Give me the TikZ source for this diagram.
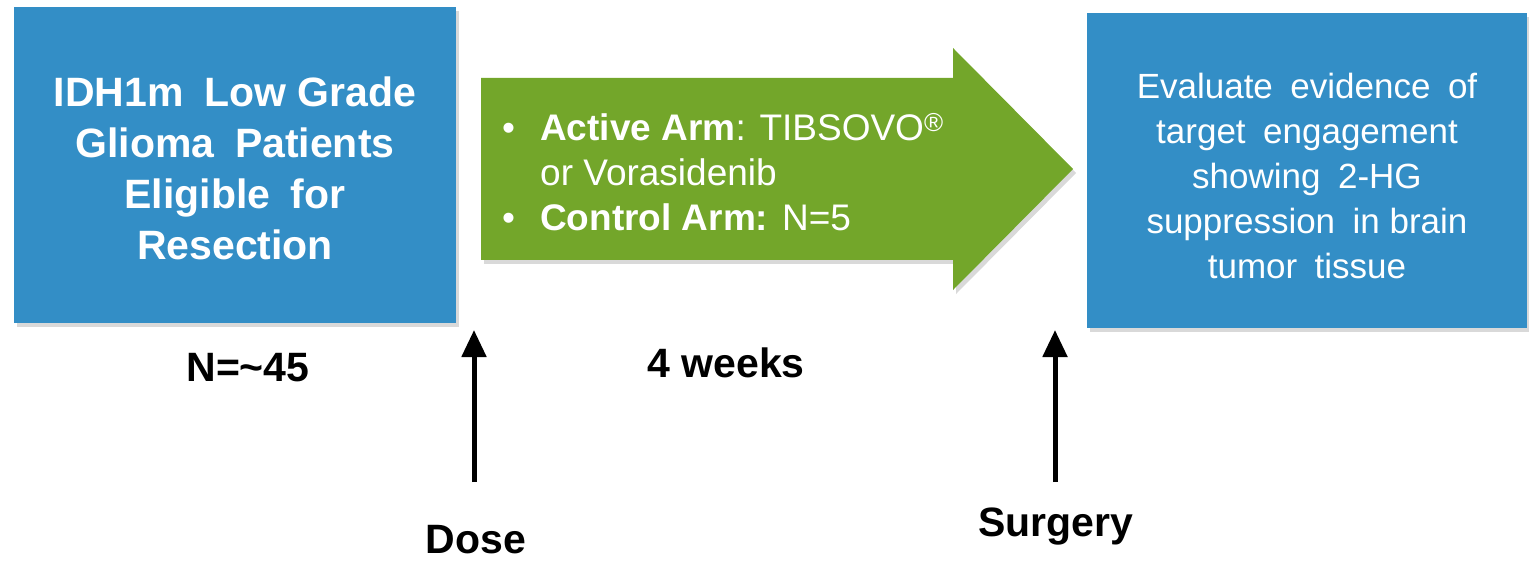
\documentclass[tikz,border=0pt]{standalone}
\usepackage{fontspec}
\setmainfont{Liberation Sans}
\usepackage{xcolor}
\usepackage{tikz}
\usetikzlibrary{arrows.meta,shadows,positioning}

\definecolor{boxblue}{RGB}{51,142,198}
\definecolor{armgreen}{RGB}{115,166,42}

\tikzset{
  boxshadow/.style={drop shadow={shadow xshift=3pt,shadow yshift=-4pt,opacity=0.3}},
  bluebox/.style={fill=boxblue,boxshadow},
  greenarrow/.style={fill=armgreen,boxshadow},
  timearrow/.style={line width=5pt,-{Triangle[length=27pt,width=24pt]}},
  steplabel/.style={font=\fontsize{41}{48}\selectfont\bfseries,inner sep=0pt}
}

\begin{document}
\begin{tikzpicture}[x=1pt,y=1pt,yscale=-1,xscale=1]
\useasboundingbox (0,0) rectangle (1529,564);

%Shape: Rectangle (patients)
\fill[bluebox] (14,7) rectangle (456,323);
%Shape: Right Arrow (treatment)
\fill[greenarrow] (481,78) -- (953,78) -- (953,48) -- (1073,169) -- (953,290) -- (953,260) -- (481,260) -- cycle;
%Shape: Rectangle (evaluation)
\fill[bluebox] (1087,13) rectangle (1527,328);

% Text Node
\node (patients) [text=white,align=center,inner sep=0pt,font=\fontsize{41}{51}\selectfont\bfseries] at (235,168)
  {IDH1m\enspace Low Grade\\ Glioma\enspace Patients\\ Eligible\enspace for\\ Resection};
% Text Node
\node (arms) [text=white,align=left,anchor=west,inner sep=0pt,font=\fontsize{37}{45}\selectfont] at (502,172)
  {\makebox[38pt][l]{•}\textbf{Active Arm}: TIBSOVO\textsuperscript{®}\\
   \hspace*{38pt}or Vorasidenib\\
   \makebox[38pt][l]{•}\textbf{Control Arm:} N=5};
% Text Node
\node (evaluate) [text=white,align=center,inner sep=0pt,font=\fontsize{35}{45}\selectfont] at (1307,176)
  {Evaluate\enspace evidence\enspace of\\ target\enspace engagement\\ showing\enspace 2-HG\\ suppression\enspace in brain\\ tumor\enspace tissue};

% Text Node
\node (cohort) [steplabel] at (248,368) {N=\textasciitilde45};
% Text Node
\node (duration) [steplabel] at (726,363) {4 weeks};
% Text Node
\node (dose) [steplabel] at (476,540) {Dose};
% Text Node
\node (surgery) [steplabel] at (1056,527) {Surgery};

%Straight Lines (dose time)
\coordinate (dose-foot) at (474,482);
\coordinate (dose-tip) at (474,330);
\draw[timearrow] (dose-foot) -- (dose-tip);
%Straight Lines (surgery time)
\coordinate (surgery-foot) at (1055,482);
\coordinate (surgery-tip) at (1055,330);
\draw[timearrow] (surgery-foot) -- (surgery-tip);

\end{tikzpicture}
\end{document}
